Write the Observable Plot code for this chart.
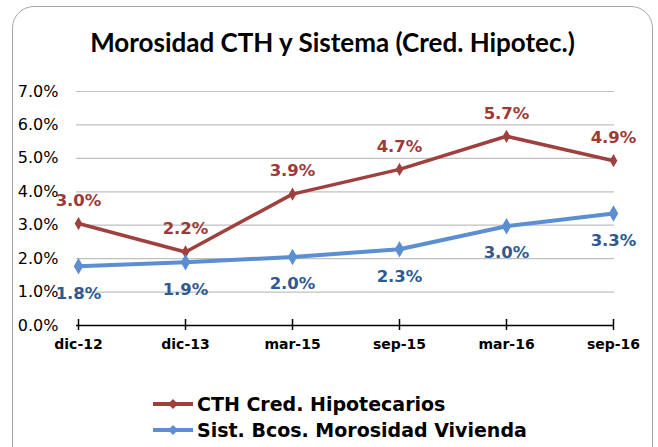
<!DOCTYPE html>
<html>
<head>
<meta charset="utf-8">
<script src="https://cdn.jsdelivr.net/npm/d3@7"></script>
<script src="https://cdn.jsdelivr.net/npm/@observablehq/plot@0.6"></script>
<style>
  html, body { margin: 0; padding: 0; background: #fff; }
  #wrap { position: relative; width: 658px; height: 447px; overflow: hidden; background: #fff; }
  #frame { position: absolute; left: 12px; top: 6px; width: 641px; height: 470px; border: 1.5px solid #A6A6A6; border-radius: 22px; box-sizing: border-box; }
  #title { position: absolute; left: 12px; width: 641px; top: 26px; text-align: center; font-family: Lato, "Open Sans", sans-serif; font-weight: bold; font-size: 26px; line-height: 32px; color: #000; }
  #chart { position: absolute; left: 0; top: 70px; }
  #legend { position: absolute; left: 152px; top: 391px; font-family: "DejaVu Sans", Verdana, sans-serif; font-weight: bold; font-size: 19px; color: #000; }
  .row { display: flex; align-items: center; height: 26px; }
  .row svg { margin-right: 3px; }
</style>
</head>
<body>
<div id="wrap">
  <div id="frame"></div>
  <div id="title">Morosidad CTH y Sistema (Cred. Hipotec.)</div>
  <div id="chart"></div>
  <div id="legend"></div>
</div>
<script>
const categories = ["dic-12", "dic-13", "mar-15", "sep-15", "mar-16", "sep-16"];
const cthValues = [3.05, 2.2, 3.93, 4.67, 5.66, 4.93];
const cthLabels = ["3.0%", "2.2%", "3.9%", "4.7%", "5.7%", "4.9%"];
const sisValues = [1.77, 1.89, 2.05, 2.28, 2.97, 3.35];
const sisLabels = ["1.8%", "1.9%", "2.0%", "2.3%", "3.0%", "3.3%"];
const yTicks = [0, 1, 2, 3, 4, 5, 6, 7];
const seriesNames = ["CTH Cred. Hipotecarios", "Sist. Bcos. Morosidad Vivienda"];

const redLine = "#A0403E", redText = "#9B3A37";
const blueLine = "#5B8FD2", blueText = "#2D5A92";

const cth = categories.map((c, i) => ({cat: c, v: cthValues[i], label: cthLabels[i]}));
const sis = categories.map((c, i) => ({cat: c, v: sisValues[i], label: sisLabels[i]}));

const chart = Plot.plot({
  width: 658,
  height: 305,
  marginLeft: 76,
  marginRight: 44,
  marginTop: 21,
  marginBottom: 50,
  x: {type: "point", domain: categories, padding: 0, label: null},
  y: {domain: [0, 7], label: null},
  style: {fontFamily: "'DejaVu Sans', Verdana, sans-serif", background: "transparent", overflow: "visible", color: "#000"},
  marks: [
    Plot.gridY(yTicks.filter(d => d > 0), {stroke: "#C0C0C0", strokeOpacity: 1, strokeWidth: 1.2}),
    Plot.axisY(yTicks, {tickSize: 0, tickPadding: 18, tickFormat: d => d.toFixed(1) + "%", fontSize: 16, fill: "#000", label: null}),
    Plot.axisX(categories, {tickSize: 0, tickPadding: 14, fontSize: 14, fontWeight: "bold", fill: "#000", label: null}),
    Plot.ruleY([0], {stroke: "#000", strokeWidth: 1.5}),
    Plot.ruleX(categories, {x: d => d, y1: 0, y2: 0, insetTop: -6, insetBottom: -5, stroke: "#000", strokeWidth: 1.5}),
    Plot.line(cth, {x: "cat", y: "v", stroke: redLine, strokeWidth: 3.5}),
    Plot.dot(cth, {x: "cat", y: "v", symbol: "diamond", r: 4, fill: redLine, stroke: null}),
    Plot.line(sis, {x: "cat", y: "v", stroke: blueLine, strokeWidth: 4}),
    Plot.dot(sis, {x: "cat", y: "v", symbol: "diamond", r: 5, fill: blueLine, stroke: null}),
    Plot.text(cth, {x: "cat", y: "v", text: "label", dy: -23, fill: redText, fontSize: 16.5, fontWeight: "bold"}),
    Plot.text(sis, {x: "cat", y: "v", text: "label", dy: 27, fill: blueText, fontSize: 16.5, fontWeight: "bold"})
  ]
});
document.getElementById("chart").appendChild(chart);

const legend = document.getElementById("legend");
[[seriesNames[0], redLine], [seriesNames[1], blueLine]].forEach(([name, color]) => {
  const row = document.createElement("div");
  row.className = "row";
  row.innerHTML = `<svg width="42" height="12"><line x1="1" x2="41" y1="6" y2="6" stroke="${color}" stroke-width="4"/><path d="M21,1 L26,6 L21,11 L16,6 Z" fill="${color}"/></svg><span>${name}</span>`;
  legend.appendChild(row);
});
</script>
</body>
</html>
